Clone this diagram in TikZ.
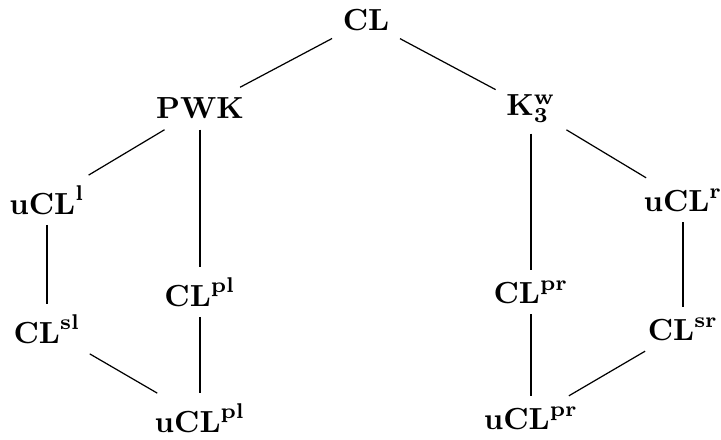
\documentclass[tikz,border=0pt]{standalone}
\begin{document}
\begin{tikzpicture}[x=0.3279pt,y=-0.3279pt,
  lbl/.style={inner sep=3.33pt},
  edge/.style={draw=black,line width=0.4pt}]
\useasboundingbox (0,0) rectangle (721,439);
\node[lbl] (cl)   at (366,20.5) {$\mathbf{CL}$};
\node[lbl] (pwk)  at (200,108.5) {$\mathbf{PWK}$};
\node[lbl] (k3w)  at (531,108.5) {$\mathbf{K}_{\mathbf{3}}^{\mathbf{w}}$};
\node[lbl] (ucll) at (47,200) {$\mathbf{uCL}^{\mathbf{l}}$};
\node[lbl] (uclr) at (683,200) {$\mathbf{uCL}^{\mathbf{r}}$};
\node[lbl] (clpl) at (200,292) {$\mathbf{CL}^{\mathbf{pl}}$};
\node[lbl] (clpr) at (531,292) {$\mathbf{CL}^{\mathbf{pr}}$};
\node[lbl] (clsl) at (47,329) {$\mathbf{CL}^{\mathbf{sl}}$};
\node[lbl] (clsr) at (683,329) {$\mathbf{CL}^{\mathbf{sr}}$};
\node[lbl] (uclpl) at (200,418) {$\mathbf{uCL}^{\mathbf{pl}}$};
\node[lbl] (uclpr) at (531,418) {$\mathbf{uCL}^{\mathbf{pr}}$};
\draw[edge] (cl) -- (pwk);
\draw[edge] (cl) -- (k3w);
\draw[edge] (pwk) -- (ucll);
\draw[edge] (pwk) -- (clpl);
\draw[edge] (k3w) -- (clpr);
\draw[edge] (k3w) -- (uclr);
\draw[edge] (ucll) -- (clsl);
\draw[edge] (clsl) -- (uclpl);
\draw[edge] (clpl) -- (uclpl);
\draw[edge] (uclr) -- (clsr);
\draw[edge] (clsr) -- (uclpr);
\draw[edge] (clpr) -- (uclpr);
\end{tikzpicture}
\end{document}
